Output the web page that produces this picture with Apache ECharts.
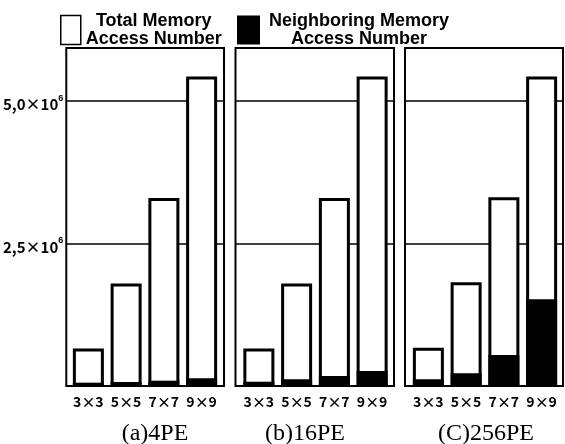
<!DOCTYPE html>
<html>
<head>
<meta charset="utf-8">
<script src="https://cdn.jsdelivr.net/npm/echarts@6/dist/echarts.min.js"></script>
<style>html,body{margin:0;padding:0;background:#fff;}#c{width:565px;height:444px;}</style>
</head>
<body>
<div id="c"></div>
<script>
// ---- data ----
const categories = ['3×3', '5×5', '7×7', '9×9'];
const panelTitles = ['(a)4PE', '(b)16PE', '(C)256PE'];
const totalA = [0.66e6, 1.80e6, 3.30e6, 5.43e6];
const totalB = [0.66e6, 1.80e6, 3.30e6, 5.43e6];
const totalC = [0.67e6, 1.82e6, 3.31e6, 5.43e6];
const neighborA = [0.058e6, 0.070e6, 0.093e6, 0.135e6];
const neighborB = [0.075e6, 0.118e6, 0.175e6, 0.263e6];
const neighborC = [0.118e6, 0.223e6, 0.544e6, 1.52e6];
const yTickValues = [2.5e6, 5.0e6];
const yTickMantissa = ['2,5', '5,0'];
const yTickExponent = '6';
const seriesNames = ['Total Memory Access Number', 'Neighboring Memory Access Number'];
const legendLines = [['Total Memory', 'Access Number'], ['Neighboring Memory', 'Access Number']];

const totals = [totalA, totalB, totalC];
const neighbors = [neighborA, neighborB, neighborC];

// ---- layout ----
const FRAME_TOP = 48, FRAME_BOTTOM = 444 - 386;
const frameLeft = [65, 235.5, 405];
const frameWidth = [159, 158.5, 158];
const Y_MAX = 5.93e6;
const titleX = [155, 305, 486];
const sans = 'Liberation Sans, Arial, sans-serif';
const cjk = '"Noto Sans CJK JP", sans-serif';

const grid = [], xAxis = [], yAxis = [], series = [], title = [];
for (let i = 0; i < 3; i++) {
  grid.push({left: frameLeft[i], width: frameWidth[i], top: FRAME_TOP, bottom: FRAME_BOTTOM,
    show: true, borderColor: '#000', borderWidth: 2, backgroundColor: '#fff'});
  xAxis.push({gridIndex: i, type: 'category', data: categories, show: false});
  yAxis.push({gridIndex: i, type: 'value', min: 0, max: Y_MAX, interval: 2.5e6,
    axisLine: {show: false}, axisTick: {show: false},
    splitLine: {show: true, lineStyle: {color: '#000', width: 1.5}},
    axisLabel: {show: i === 0, margin: 3, showMinLabel: false, showMaxLabel: false,
      padding: [7, 0, 0, 0],
      formatter: function (v) {
        const k = yTickValues.indexOf(v);
        if (k < 0) return '';
        return '{m|' + yTickMantissa[k] + '×10}{s|' + yTickExponent + '}';
      },
      rich: {
        m: {fontSize: 15, fontWeight: 'bold', color: '#000', fontFamily: cjk},
        s: {fontSize: 9, fontWeight: 'bold', color: '#000', fontFamily: sans, padding: [0, 0, 12, 0]}
      }
    }
  });
}
for (let i = 0; i < 3; i++) {
  const g = 3 + i;
  grid.push({left: frameLeft[i] + 4.5, width: 151, top: FRAME_TOP, bottom: FRAME_BOTTOM});
  xAxis.push({gridIndex: g, type: 'category', data: categories,
    axisLine: {show: false}, axisTick: {show: false},
    axisLabel: {interval: 0, hideOverlap: false, margin: 9, fontSize: 14, fontWeight: 'bold', color: '#000', fontFamily: cjk}});
  yAxis.push({gridIndex: g, type: 'value', min: 0, max: Y_MAX, show: false, splitLine: {show: false}});
  series.push({type: 'bar', name: seriesNames[0], xAxisIndex: g, yAxisIndex: g, data: totals[i],
    barWidth: 31, barGap: '-100%',
    itemStyle: {color: '#fff', borderColor: '#000', borderWidth: 3}});
  series.push({type: 'bar', name: seriesNames[1], xAxisIndex: g, yAxisIndex: g, data: neighbors[i],
    barWidth: 31, barGap: '-100%',
    itemStyle: {color: '#000', borderColor: '#000', borderWidth: 3}});
  title.push({text: panelTitles[i], left: titleX[i], top: 422, textAlign: 'center', padding: 0,
    textStyle: {fontFamily: 'Liberation Serif, Times New Roman, serif', fontSize: 24, fontWeight: 'normal', color: '#000'}});
}

const legendRich = {a: {align: 'center', fontSize: 18, fontWeight: 'bold', lineHeight: 18, color: '#000', fontFamily: sans}};
const legend = [
  {data: [{name: seriesNames[0], itemStyle: {color: '#fff', borderColor: '#000', borderWidth: 1.5}}],
   left: 60, top: 12, padding: 0, itemWidth: 20, itemHeight: 29, icon: 'rect', selectedMode: false,
   formatter: () => '{a|' + legendLines[0][0] + '}\n{a|' + legendLines[0][1] + '}',
   textStyle: {rich: legendRich}},
  {data: [{name: seriesNames[1], itemStyle: {color: '#000', borderColor: '#000', borderWidth: 0}}],
   left: 237, top: 12, padding: 0, itemWidth: 23, itemHeight: 29, icon: 'rect', selectedMode: false,
   formatter: () => '{a|' + legendLines[1][0] + '}\n{a|' + legendLines[1][1] + '}',
   textStyle: {rich: legendRich, padding: [0, 0, 0, 4]}}
];

const chart = echarts.init(document.getElementById('c'), null, {renderer: 'canvas'});
chart.setOption({animation: false, backgroundColor: '#fff', grid, xAxis, yAxis, series, title, legend});
</script>
</body>
</html>
